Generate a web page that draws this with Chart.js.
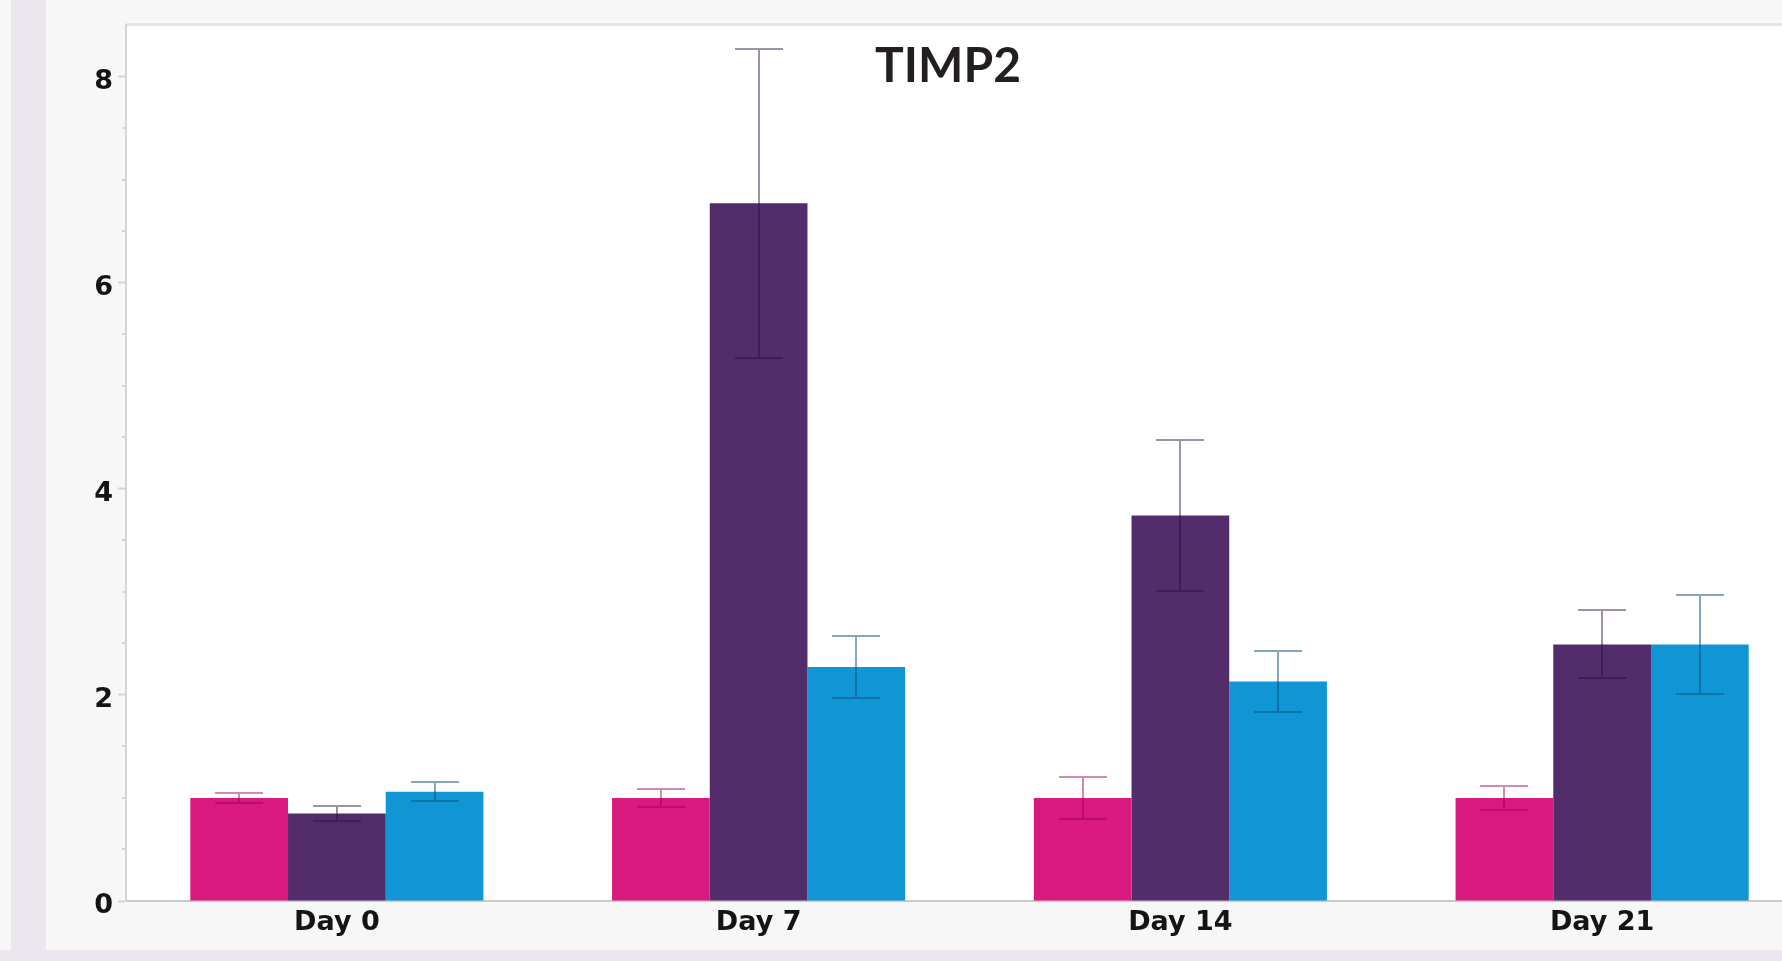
<!DOCTYPE html>
<html>
<head>
<meta charset="utf-8">
<script src="https://cdn.jsdelivr.net/npm/chart.js@4/dist/chart.umd.min.js"></script>
<style>
  html, body { margin: 0; padding: 0; width: 1782px; height: 961px; overflow: hidden; background: #f7f7f7; }
  #sideBand { position: absolute; left: 11px; top: 0; width: 35px; height: 950px; background: #ece7ee; }
  #footBand { position: absolute; left: 0; top: 950px; width: 1782px; height: 11px; background: #ece7ee; }
  #chart { position: absolute; left: 0; top: 0; }
</style>
</head>
<body>
<div id="sideBand"></div>
<div id="footBand"></div>
<canvas id="chart" width="1813" height="950"></canvas>
<script>
// Relative expression, mean and error per time point
const categories   = ['Day 0', 'Day 7', 'Day 14', 'Day 21'];
const seriesNames  = ['Group 1', 'Group 2', 'Group 3'];
const pinkMeans    = [1.00, 1.00, 1.00, 1.00];
const pinkErrors   = [0.05, 0.09, 0.20, 0.12];
const purpleMeans  = [0.85, 6.77, 3.74, 2.49];
const purpleErrors = [0.075, 1.50, 0.73, 0.33];
const blueMeans    = [1.06, 2.27, 2.13, 2.49];
const blueErrors   = [0.09, 0.30, 0.30, 0.48];
const yTickValues  = [0, 2, 4, 6, 8];
const chartTitle   = 'TIMP2';

const AXIS_FONT = { family: "'DejaVu Sans'", size: 27, weight: 'bold' };

// White plot panel with a thin beige rule along its top edge
const panel = {
  id: 'panel',
  beforeDraw(chart) {
    const { ctx, chartArea: a } = chart;
    ctx.save();
    ctx.fillStyle = '#ffffff';
    ctx.fillRect(a.left, a.top, a.right - a.left, a.bottom - a.top);
    ctx.fillStyle = '#e8e6dc';
    ctx.fillRect(a.left, a.top - 2, a.right - a.left, 3);
    ctx.restore();
  }
};

// Mean ± error whiskers with caps, drawn over each bar
const errorBars = {
  id: 'errorBars',
  afterDatasetsDraw(chart) {
    const ctx = chart.ctx;
    const y = chart.scales.y;
    chart.data.datasets.forEach((ds, i) => {
      const meta = chart.getDatasetMeta(i);
      ctx.save();
      ctx.strokeStyle = ds.errorColor;
      ctx.lineWidth = 2;
      meta.data.forEach((bar, j) => {
        const v = ds.data[j], e = ds.errors[j];
        const yt = Math.round(y.getPixelForValue(v + e));
        const yb = Math.round(y.getPixelForValue(v - e));
        const x = Math.round(bar.x);
        const half = 24;
        ctx.beginPath();
        ctx.moveTo(x - half, yt); ctx.lineTo(x + half, yt);
        ctx.moveTo(x, yt); ctx.lineTo(x, yb);
        ctx.moveTo(x - half, yb); ctx.lineTo(x + half, yb);
        ctx.stroke();
      });
      ctx.restore();
    });
  }
};

// Short minor ticks every 0.5 on the value axis, plus the chart heading
const decorations = {
  id: 'decorations',
  afterDraw(chart) {
    const { ctx } = chart;
    const y = chart.scales.y;
    ctx.save();
    ctx.strokeStyle = '#d4d4d4';
    ctx.lineWidth = 2;
    for (let v = 0.5; v < y.max; v += 0.5) {
      if (v % 2 === 0) continue;
      const py = Math.round(y.getPixelForValue(v));
      ctx.beginPath();
      ctx.moveTo(y.right - 4, py);
      ctx.lineTo(y.right, py);
      ctx.stroke();
    }
    ctx.fillStyle = '#231f20';
    ctx.font = "bold 48px Lato";
    ctx.textAlign = 'center';
    ctx.textBaseline = 'alphabetic';
    ctx.fillText(chartTitle, 948, 82);
    ctx.restore();
  }
};

function makeSet(name, means, errors, color, errorColor) {
  return {
    label: name,
    data: means,
    errors: errors,
    backgroundColor: color,
    borderWidth: 0,
    errorColor: errorColor,
    barPercentage: 1.0,
    categoryPercentage: 0.695
  };
}

new Chart(document.getElementById('chart'), {
  type: 'bar',
  data: {
    labels: categories,
    datasets: [
      makeSet(seriesNames[0], pinkMeans, pinkErrors, '#d9197f', 'rgba(150,0,80,0.45)'),
      makeSet(seriesNames[1], purpleMeans, purpleErrors, '#532c6b', 'rgba(40,10,60,0.45)'),
      makeSet(seriesNames[2], blueMeans, blueErrors, '#1196d5', 'rgba(10,80,120,0.5)')
    ]
  },
  options: {
    responsive: false,
    animation: false,
    devicePixelRatio: 1,
    layout: { padding: { top: 25, left: 0, right: 0, bottom: 0 } },
    plugins: { legend: { display: false }, tooltip: { enabled: false }, title: { display: false } },
    scales: {
      x: {
        afterFit(scale) { scale.height = 49; },
        grid: { display: true, drawOnChartArea: false, drawTicks: false },
        border: { display: true, color: '#c9c9c9', width: 2 },
        ticks: { color: '#141414', font: AXIS_FONT, padding: 6 }
      },
      y: {
        min: 0,
        max: 8.5,
        afterFit(scale) { scale.width = 126; },
        afterBuildTicks(scale) { scale.ticks = yTickValues.map(v => ({ value: v })); },
        grid: { display: true, drawOnChartArea: false, drawTicks: true, tickLength: 8, tickColor: '#d4d4d4', tickWidth: 2 },
        border: { display: true, color: '#d4d4d4', width: 2 },
        ticks: { color: '#141414', font: AXIS_FONT, padding: 5, labelOffset: 5, includeBounds: false }
      }
    }
  },
  plugins: [panel, errorBars, decorations]
});
</script>
</body>
</html>
